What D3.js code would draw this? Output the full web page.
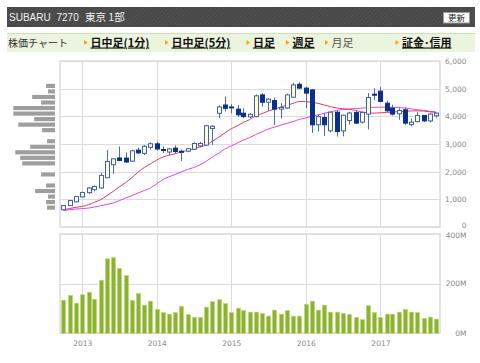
<!DOCTYPE html>
<html>
<head>
<meta charset="utf-8">
<script src="https://cdn.jsdelivr.net/npm/d3@7"></script>
<style>
  html, body { margin: 0; padding: 0; background: #fff; }
  svg { display: block; }
</style>
</head>
<body>
<svg id="chart"></svg>
<script>
const width = 480, height = 363;

// monthly candles, Oct 2012 - Oct 2017
const months = [
  "2012-10","2012-11","2012-12",
  "2013-01","2013-02","2013-03","2013-04","2013-05","2013-06","2013-07","2013-08","2013-09","2013-10","2013-11","2013-12",
  "2014-01","2014-02","2014-03","2014-04","2014-05","2014-06","2014-07","2014-08","2014-09","2014-10","2014-11","2014-12",
  "2015-01","2015-02","2015-03","2015-04","2015-05","2015-06","2015-07","2015-08","2015-09","2015-10","2015-11","2015-12",
  "2016-01","2016-02","2016-03","2016-04","2016-05","2016-06","2016-07","2016-08","2016-09","2016-10","2016-11","2016-12",
  "2017-01","2017-02","2017-03","2017-04","2017-05","2017-06","2017-07","2017-08","2017-09","2017-10"
];
const open = [
  625,775,910,
  1090,1240,1350,1410,1780,2250,2495,2490,2380,2780,2660,2880,
  3005,2800,2710,2850,2740,2740,2810,2930,2960,3560,4110,4410,
  4340,4260,4115,3980,3990,4775,4510,4570,4260,4300,4690,5160,
  5020,4955,3695,3955,3475,4150,3475,3850,4135,3790,4080,4800,
  4910,4475,4295,4090,4235,3700,3810,4030,3835,4020
];
const high = [
  790,975,1120,
  1270,1440,1500,1960,2790,2480,2910,2690,2790,2870,2960,3060,
  3080,2910,2860,2950,2800,2860,3060,3080,3700,3690,4400,4715,
  4440,4415,4290,4110,4790,4835,4660,4680,4475,4820,5210,5230,
  5075,4980,4060,4115,4170,4200,4055,4170,4190,4180,4840,5020,
  5055,4560,4420,4295,4320,3920,4160,4050,4110,4140
];
const low = [
  600,760,890,
  1060,1200,1290,1380,1770,1925,2380,2320,2350,2640,2600,2800,
  2760,2670,2600,2650,2390,2700,2790,2880,2930,2970,3930,4175,
  4110,3990,3935,3940,3960,4350,4190,3690,3920,4270,4670,4990,
  4295,3400,3450,3290,3420,3270,3280,3700,3720,3740,3530,4595,
  4510,4150,4030,3875,3690,3640,3780,3800,3780,3950
];
const close = [
  775,955,1105,
  1250,1410,1465,1865,2370,2465,2405,2350,2755,2680,2920,3010,
  2820,2770,2820,2730,2700,2830,3020,3020,3660,3640,4340,4290,
  4320,4055,3990,4075,4740,4510,4620,4260,4320,4775,5135,5020,
  4840,3695,3990,3695,4150,3450,4040,4120,3755,4140,4680,4770,
  4540,4200,4080,4210,3755,3790,4030,3835,4080,4115
];
// volume, millions of shares
const volume = [
  133,152,121,
  155,165,137,213,299,304,260,232,132,160,113,129,
  96,83,77,83,108,75,64,64,105,127,135,119,
  83,101,91,85,85,80,69,93,77,91,69,69,
  116,129,93,113,85,85,80,75,64,55,111,83,
  64,77,77,85,96,85,83,60,65,57
];
// moving averages (red = short, magenta = long)
const maShort = [
  620,670,710,
  745,805,890,985,1130,1285,1445,1600,1780,1980,2150,2280,
  2420,2530,2590,2650,2710,2770,2830,2890,2970,3100,3250,3400,
  3550,3660,3780,3880,4020,4100,4190,4260,4340,4400,4470,4535,
  4530,4510,4470,4410,4350,4300,4275,4255,4215,4160,4130,4115,
  4130,4140,4155,4170,4180,4195,4200,4190,4160,4140
];
const maLong = [
  600,625,650,
  665,685,720,770,815,865,950,1045,1135,1225,1320,1410,
  1560,1720,1810,1900,1990,2080,2150,2250,2380,2530,2670,2820,
  2930,3040,3140,3230,3340,3440,3540,3610,3680,3750,3810,3890,
  3940,4010,4050,4110,4160,4215,4245,4265,4280,4295,4315,4325,
  4330,4330,4325,4320,4300,4270,4240,4215,4180,4160
];
// volume-by-price histogram (left side)
const bandCenters = [700,900,1100,1300,1500,1700,1900,2100,2300,2500,2700,2900,3100,3300,3500,3700,3900,4100,4300,4500,4700,4900,5100];
const bandVolume  = [8,9,7,20,9,0,14,0,33,35,40,25,8,0,13,37,21,42,42,14,23,7,9];

const priceTicks = [0,1000,2000,3000,4000,5000,6000];
const volTicks = [0,200,400];

const navItems = [
  { label: "日中足(1分)", link: true },
  { label: "日中足(5分)", link: true },
  { label: "日足", link: true },
  { label: "週足", link: true },
  { label: "月足", link: false },
  { label: "証金･信用", link: true }
];
const navX = [84, 165, 246.5, 286, 325, 395.5];

const parse = d3.timeParse("%Y-%m");
const data = months.map((m, i) => ({
  date: parse(m), o: open[i], h: high[i], l: low[i], c: close[i],
  v: volume[i], ma1: maShort[i], ma2: maLong[i]
}));

const svg = d3.select("#chart").attr("width", width).attr("height", height)
  .style("font-family", "'DejaVu Sans', sans-serif");

// ---- header ----
const defs = svg.append("defs");
const pat = defs.append("pattern").attr("id", "stripe")
  .attr("width", 3).attr("height", 3).attr("patternUnits", "userSpaceOnUse")
  .attr("patternTransform", "rotate(45)");
pat.append("rect").attr("width", 3).attr("height", 3).attr("fill", "#505050");
pat.append("rect").attr("width", 1.5).attr("height", 3).attr("fill", "#464646");

svg.append("rect").attr("x", 7).attr("y", 7).attr("width", 468).attr("height", 20).attr("fill", "url(#stripe)");
const hdr = svg.append("g").attr("fill", "#f2f2f2").style("font-size", "10.5px");
hdr.append("text").attr("x", 9).attr("y", 21).style("font-family", "'Liberation Sans', Arial, sans-serif").style("font-size", "10px").text("SUBARU");
hdr.append("text").attr("x", 56.5).attr("y", 21).style("font-family", "'Liberation Sans', Arial, sans-serif").style("font-size", "10px").text("7270");
hdr.append("text").attr("x", 85).attr("y", 21).style("font-family", "'Noto Sans CJK JP', sans-serif").text("東京 1部");

svg.append("rect").attr("x", 443.5).attr("y", 12.5).attr("width", 26).attr("height", 10.5)
  .attr("fill", "#fafafa").attr("stroke", "#999");
svg.append("text").attr("x", 456.5).attr("y", 21).attr("text-anchor", "middle")
  .style("font-family", "'Noto Sans CJK JP', sans-serif").style("font-size", "8.5px").attr("fill", "#222").text("更新");

// ---- nav bar ----
svg.append("rect").attr("x", 7).attr("y", 33).attr("width", 468).attr("height", 19).attr("fill", "#ebf4dd");
svg.append("line").attr("x1", 7).attr("x2", 475).attr("y1", 33.5).attr("y2", 33.5).attr("stroke", "#cfdfba");
svg.append("text").attr("x", 8).attr("y", 46.5).attr("fill", "#333")
  .style("font-family", "'Noto Sans CJK JP', sans-serif").style("font-size", "10px").text("株価チャート");
const nav = svg.append("g").selectAll("g").data(navItems).join("g")
  .attr("transform", (d, i) => `translate(${navX[i]},0)`);
nav.append("path").attr("d", "M0,40 L3.5,42.5 L0,45 Z").attr("fill", "#f5a31c");
nav.append("text").attr("x", 6.5).attr("y", 46.5)
  .style("font-family", "'Noto Sans CJK JP', sans-serif").style("font-size", "11px")
  .style("font-weight", d => d.link ? "bold" : "normal")
  .style("text-decoration", d => d.link ? "underline" : "none")
  .attr("fill", d => d.link ? "#111" : "#555")
  .text(d => d.label);

// ---- scales ----
const left = 60, right = 440;
const x = d3.scaleTime().domain([new Date(2012, 8, 14), new Date(2017, 9, 20)]).range([left, right]);
const yP = d3.scaleLinear().domain([0, 6000]).range([227, 61]);
const yV = d3.scaleLinear().domain([0, 400]).range([333.3, 233.7]);
const years = x.ticks(d3.timeYear);

// ---- grids / frames ----
function panel(y0, y1, yScale, ticks) {
  const g = svg.append("g");
  g.selectAll(".h").data(ticks).join("line")
    .attr("x1", left).attr("x2", right)
    .attr("y1", d => Math.round(yScale(d)) + 0.5).attr("y2", d => Math.round(yScale(d)) + 0.5)
    .attr("stroke", "#dcdcdc");
  g.selectAll(".v").data(years).join("line")
    .attr("x1", d => Math.round(x(d)) + 0.5).attr("x2", d => Math.round(x(d)) + 0.5)
    .attr("y1", y0).attr("y2", y1).attr("stroke", "#dcdcdc");
  g.append("rect").attr("x", left).attr("y", y0).attr("width", right - left).attr("height", y1 - y0)
    .attr("fill", "none").attr("stroke", "#dedede").attr("stroke-width", 1.6);
}
panel(61, 227, yP, priceTicks);
panel(234, 333, yV, volTicks);

// ---- volume-by-price histogram ----
const xH = d3.scaleLinear().domain([0, 42]).range([0, 41.7]);
svg.append("g").selectAll("rect").data(bandCenters).join("rect")
  .attr("x", (d, i) => 55 - xH(bandVolume[i]))
  .attr("width", (d, i) => xH(bandVolume[i]))
  .attr("y", d => yP(d + 75))
  .attr("height", d => yP(d - 75) - yP(d + 75))
  .attr("fill", "#9e9e9e");

// ---- moving averages ----
const lineMa = key => d3.line().x(d => x(d.date)).y(d => yP(d[key])).curve(d3.curveMonotoneX);
svg.append("path").datum(data).attr("d", lineMa("ma2")).attr("fill", "none").attr("stroke", "#e146f2").attr("stroke-width", 1);
svg.append("path").datum(data).attr("d", lineMa("ma1")).attr("fill", "none").attr("stroke", "#e33c63").attr("stroke-width", 1);

// ---- candles ----
const bw = 4;
const cg = svg.append("g").selectAll("g").data(data).join("g");
cg.append("line")
  .attr("x1", d => Math.round(x(d.date)) + 0.5).attr("x2", d => Math.round(x(d.date)) + 0.5)
  .attr("y1", d => yP(d.h)).attr("y2", d => yP(d.l))
  .attr("stroke", "#4a6cc0");
cg.append("rect")
  .attr("x", d => Math.round(x(d.date)) - bw / 2 + 0.5)
  .attr("width", bw)
  .attr("y", d => yP(Math.max(d.o, d.c)))
  .attr("height", d => Math.max(1, Math.abs(yP(d.o) - yP(d.c))))
  .attr("fill", d => d.c >= d.o ? "#ffffcc" : "#0b2f8f")
  .attr("stroke", d => d.c >= d.o ? "#3d5fb8" : "#0b2f8f");

// ---- volume bars ----
svg.append("g").selectAll("rect").data(data).join("rect")
  .attr("x", d => Math.round(x(d.date)) - 1.5)
  .attr("width", 4)
  .attr("y", d => yV(d.v))
  .attr("height", d => yV(0) - yV(d.v))
  .attr("fill", "#8ab52a")
  .attr("stroke", "#b9d77a").attr("stroke-width", 0.6);

// ---- axes ----
const axisStyle = g => {
  g.select(".domain").remove();
  g.selectAll("text").attr("fill", "#888").style("font-size", "7.5px").style("font-family", "'DejaVu Sans', sans-serif");
};
svg.append("g").attr("transform", "translate(466.5,0)")
  .call(d3.axisLeft(yP).tickValues(priceTicks).tickSize(0).tickPadding(0))
  .call(axisStyle)
  .call(g => g.selectAll("text").filter(d => d === 0).attr("dy", "0.05em"));
svg.append("g").attr("transform", "translate(466.5,0)")
  .call(d3.axisLeft(yV).tickValues(volTicks).tickSize(0).tickPadding(0).tickFormat(d => d + "M"))
  .call(axisStyle)
  .call(g => g.selectAll("text").filter(d => d === 400).attr("dy", "0.55em"));
svg.append("g").attr("transform", "translate(0,333)")
  .call(d3.axisBottom(x).tickValues(years).tickFormat(d3.timeFormat("%Y")).tickSize(0).tickPadding(8))
  .call(axisStyle);
</script>
</body>
</html>
